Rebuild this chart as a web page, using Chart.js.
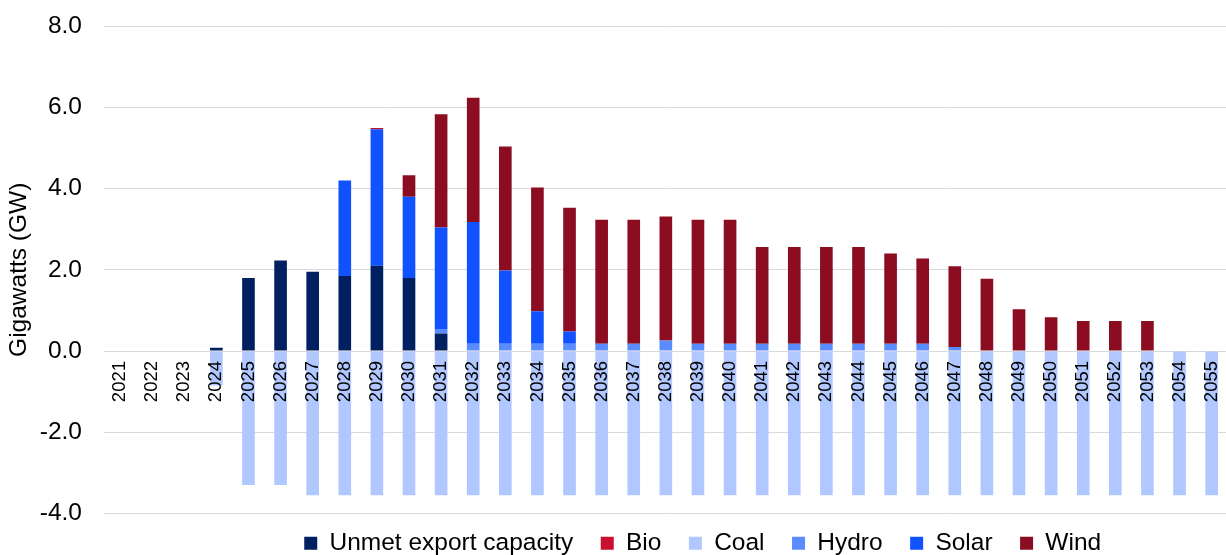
<!DOCTYPE html>
<html>
<head>
<meta charset="utf-8">
<script src="https://cdn.jsdelivr.net/npm/chart.js@4/dist/chart.umd.min.js"></script>
<style>
  html, body { margin: 0; padding: 0; background: #ffffff; overflow: hidden; }
  #wrap { position: absolute; left: 0; top: 0; }
</style>
</head>
<body>
<div id="wrap"><canvas id="chart" width="1244" height="580"></canvas></div>
<script>
// Year labels along the category axis
const years = ['2021','2022','2023','2024','2025','2026','2027','2028','2029','2030',
  '2031','2032','2033','2034','2035','2036','2037','2038','2039','2040',
  '2041','2042','2043','2044','2045','2046','2047','2048','2049','2050',
  '2051','2052','2053','2054','2055'];

// Capacity per year, GW
const unmetExport = [null,null,null,0.08,1.8,2.23,1.95,1.85,2.1,1.8,
  0.43,null,null,null,null,null,null,null,null,null,
  null,null,null,null,null,null,null,null,null,null,
  null,null,null,null,null];
const bio = [null,null,null,null,null,null,null,null,0.03,null,
  null,null,null,null,null,null,null,null,null,null,
  null,null,null,null,null,null,null,null,null,null,
  null,null,null,null,null];
const coal = [null,null,null,-0.85,-3.3,-3.3,-3.55,-3.55,-3.55,-3.55,
  -3.55,-3.55,-3.55,-3.55,-3.55,-3.55,-3.55,-3.55,-3.55,-3.55,
  -3.55,-3.55,-3.55,-3.55,-3.55,-3.55,-3.55,-3.55,-3.55,-3.55,
  -3.55,-3.55,-3.55,-3.55,-3.55];
const hydro = [null,null,null,null,null,null,null,null,null,null,
  0.11,0.18,0.18,0.18,0.18,0.18,0.18,0.26,0.18,0.18,
  0.18,0.18,0.18,0.18,0.18,0.18,0.1,null,null,null,
  null,null,null,null,null];
const solar = [null,null,null,null,null,null,null,2.35,3.36,2.0,
  2.5,3.0,1.8,0.8,0.3,null,null,null,null,null,
  null,null,null,null,null,null,null,null,null,null,
  null,null,null,null,null];
const wind = [null,null,null,null,null,null,null,null,null,0.53,
  2.79,3.06,3.06,3.05,3.05,3.05,3.05,3.05,3.05,3.05,
  2.38,2.38,2.38,2.38,2.22,2.1,1.99,1.78,1.03,0.83,
  0.74,0.74,0.74,null,null];

// Legend reading order
const legendOrder = ['Unmet export capacity','Bio','Coal','Hydro','Solar','Wind'];
// Y axis tick values
const yTicks = [-4, -2, 0, 2, 4, 6, 8];

const FONT = '"Liberation Sans", Arial, Helvetica, sans-serif';
const TEXT = '#000000';

// Small shift applied to the legend block after layout
const legendNudge = {
  id: 'legendNudge',
  afterLayout(chart) {
    const lg = chart.legend;
    if (!lg) return;
    const dx = 85, dy = -10;
    lg.left += dx; lg.right += dx;
    lg.top += dy; lg.bottom += dy;
  }
};

// Stacking order bottom-up: unmet, hydro, solar, bio, wind; coal stacks below zero
const datasets = [
  { label: 'Unmet export capacity', data: unmetExport, backgroundColor: '#002060' },
  { label: 'Coal', data: coal, backgroundColor: '#B0C8FF' },
  { label: 'Hydro', data: hydro, backgroundColor: '#5B8CFF' },
  { label: 'Solar', data: solar, backgroundColor: '#1152FF' },
  { label: 'Bio', data: bio, backgroundColor: '#C8102E' },
  { label: 'Wind', data: wind, backgroundColor: '#8C0C22' }
].map(d => Object.assign(d, { categoryPercentage: 0.394, barPercentage: 1.0, borderWidth: 0 }));

new Chart(document.getElementById('chart'), {
  type: 'bar',
  data: { labels: years, datasets },
  plugins: [legendNudge],
  options: {
    responsive: false,
    animation: false,
    layout: { padding: { left: 2.4, top: 26.2, right: 11, bottom: 4.6 } },
    plugins: {
      tooltip: { enabled: false },
      legend: {
        position: 'bottom',
        labels: {
          font: { family: FONT, size: 24.5 },
          color: TEXT,
          boxWidth: 13,
          boxHeight: 13,
          padding: 27.5,
          sort: (a, b) => legendOrder.indexOf(a.text) - legendOrder.indexOf(b.text)
        }
      }
    },
    scales: {
      x: {
        type: 'category',
        stacked: true,
        position: { y: 0 },
        grid: { display: false, drawTicks: false },
        border: { display: false },
        ticks: {
          z: 1,
          font: { family: FONT, size: 18.5 },
          color: TEXT,
          minRotation: 90,
          maxRotation: 90,
          autoSkip: false,
          padding: 10
        }
      },
      y: {
        stacked: true,
        min: -4,
        max: 8,
        afterBuildTicks: (scale) => { scale.ticks = yTicks.map(v => ({ value: v })); },
        afterFit: (scale) => {
          scale.width = 101.6;
          scale.paddingTop = 0;
          scale.paddingBottom = 0;
        },
        grid: { color: '#D9D9D9', lineWidth: 1, drawTicks: false },
        border: { display: false },
        ticks: {
          font: { family: FONT, size: 24.5 },
          color: TEXT,
          padding: 22,
          callback: (v) => Number(v).toFixed(1)
        },
        title: {
          display: true,
          text: 'Gigawatts (GW)',
          font: { family: FONT, size: 24.5 },
          color: TEXT,
          padding: { top: 2, bottom: 6 }
        }
      }
    }
  }
});
</script>
</body>
</html>
